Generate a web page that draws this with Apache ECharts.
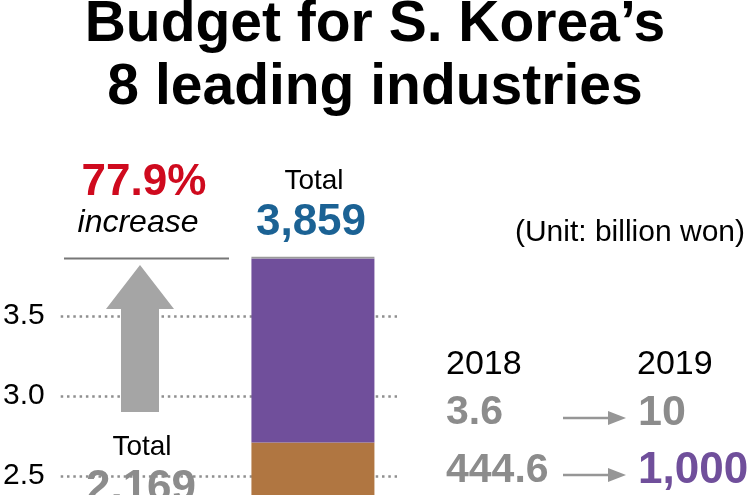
<!DOCTYPE html>
<html>
<head>
<meta charset="utf-8">
<script src="https://cdn.jsdelivr.net/npm/echarts@6/dist/echarts.min.js"></script>
<style>
html,body{margin:0;padding:0;background:#fff;overflow:hidden;}
#frame{width:750px;height:495px;overflow:hidden;position:relative;}
#chart{width:750px;height:600px;position:absolute;left:0;top:0;}
</style>
</head>
<body>
<div id="frame"><div id="chart"></div></div>
<script>
// ---- data (values in trillion won, i.e. thousands of billion won) ----
const categories = ['2018', '2019'];
const otherSectors = [1.7208, 2.71];
const sectorB = [0.4446, 1.15];
const sectorA = [0.0036, 0.01];
const totals = ['2,169', '3,859'];
const sectorAText = ['3.6', '10'];
const sectorBText = ['444.6', '1,000'];
const increaseText = '77.9%';
const yTicks = { min: 2.0, max: 4.0, interval: 0.5 };

const FONT = '"Liberation Sans", Arial, Helvetica, sans-serif';
const PURPLE = '#704f9b';
const BROWN = '#b07641';
const GRAY_TXT = '#8c8c8c';

const chart = echarts.init(document.getElementById('chart'), null, { renderer: 'canvas' });

function txt(x, y, text, size, color, opts) {
  opts = opts || {};
  return {
    type: 'text', x: x, y: y, z: 10,
    style: {
      text: text, fill: color, font: (opts.style || 'normal') + ' ' + (opts.weight || 'normal') + ' ' + size + 'px ' + FONT,
      align: opts.align || 'center', verticalAlign: 'middle'
    }
  };
}

function smallArrow(x1, x2, y) {
  return [
    { type: 'line', z: 10, shape: { x1: x1, y1: y, x2: x2 - 16, y2: y }, style: { stroke: '#969696', lineWidth: 2.5 } },
    { type: 'polygon', z: 10, shape: { points: [[x2 - 18, y - 7], [x2, y], [x2 - 18, y + 7]] }, style: { fill: '#969696' } }
  ];
}

const option = {
  backgroundColor: '#ffffff',
  animation: false,
  title: [
    { text: 'Budget for S. Korea\u2019s', left: 'center', top: -3, padding: 0,
      textStyle: { fontFamily: FONT, fontWeight: 'bold', fontSize: 57, color: '#000', lineHeight: 57 } },
    { text: '8 leading industries', left: 'center', top: 60, padding: 0,
      textStyle: { fontFamily: FONT, fontWeight: 'bold', fontSize: 57, color: '#000', lineHeight: 57 } }
  ],
  grid: { left: 60, right: 353, top: 236, bottom: 44, containLabel: false },
  xAxis: {
    type: 'category', data: categories, show: false
  },
  yAxis: {
    type: 'value', min: yTicks.min, max: yTicks.max, interval: yTicks.interval,
    axisLine: { show: false }, axisTick: { show: false },
    axisLabel: {
      showMaxLabel: false, margin: 16, color: '#000', fontSize: 30, fontFamily: FONT,
      formatter: function (v) { return v.toFixed(1); }
    },
    splitLine: { show: true, showMaxLine: false, lineStyle: { color: '#8f8f8f', width: 2.5, type: [2.5, 3.8] } }
  },
  series: [
    { name: 'Other sectors', type: 'bar', stack: 'total', barWidth: 123, data: otherSectors,
      itemStyle: { color: BROWN } },
    { name: 'Sector B', type: 'bar', stack: 'total', barWidth: 123, data: sectorB,
      itemStyle: { color: PURPLE } },
    { name: 'Sector A', type: 'bar', stack: 'total', barWidth: 123, data: sectorA,
      itemStyle: { color: '#9a9a9a' } }
  ],
  graphic: [
    txt(144, 183, increaseText, 44, '#cf0a1e', { weight: 'bold' }),
    txt(138, 223, 'increase', 32, '#000', { style: 'italic' }),
    { type: 'line', z: 10, shape: { x1: 64, y1: 258.5, x2: 229, y2: 258.5 }, style: { stroke: '#777', lineWidth: 2 } },
    { type: 'polygon', z: 10, shape: { points: [[140, 265], [174, 309], [159, 309], [159, 412], [121, 412], [121, 309], [106, 309]] },
      style: { fill: '#a5a5a5' } },
    txt(142, 447, 'Total', 28, '#000'),
    txt(141, 489, totals[0], 44, GRAY_TXT, { weight: 'bold' }),
    txt(314, 181, 'Total', 28, '#000'),
    txt(311, 223, totals[1], 44, '#1b6294', { weight: 'bold' }),
    txt(745, 233, '(Unit: billion won)', 30, '#000', { align: 'right' }),
    txt(446, 365, categories[0], 34, '#000', { align: 'left' }),
    txt(637, 365, categories[1], 34, '#000', { align: 'left' }),
    txt(446, 413, sectorAText[0], 41, GRAY_TXT, { align: 'left', weight: 'bold' }),
    txt(638, 413, sectorAText[1], 43, GRAY_TXT, { align: 'left', weight: 'bold' }),
    txt(446, 471, sectorBText[0], 41, GRAY_TXT, { align: 'left', weight: 'bold' }),
    txt(638, 471, sectorBText[1], 44, PURPLE, { align: 'left', weight: 'bold' })
  ].concat(smallArrow(563, 626, 418), smallArrow(563, 626, 475))
};

chart.setOption(option);
</script>
</body>
</html>
